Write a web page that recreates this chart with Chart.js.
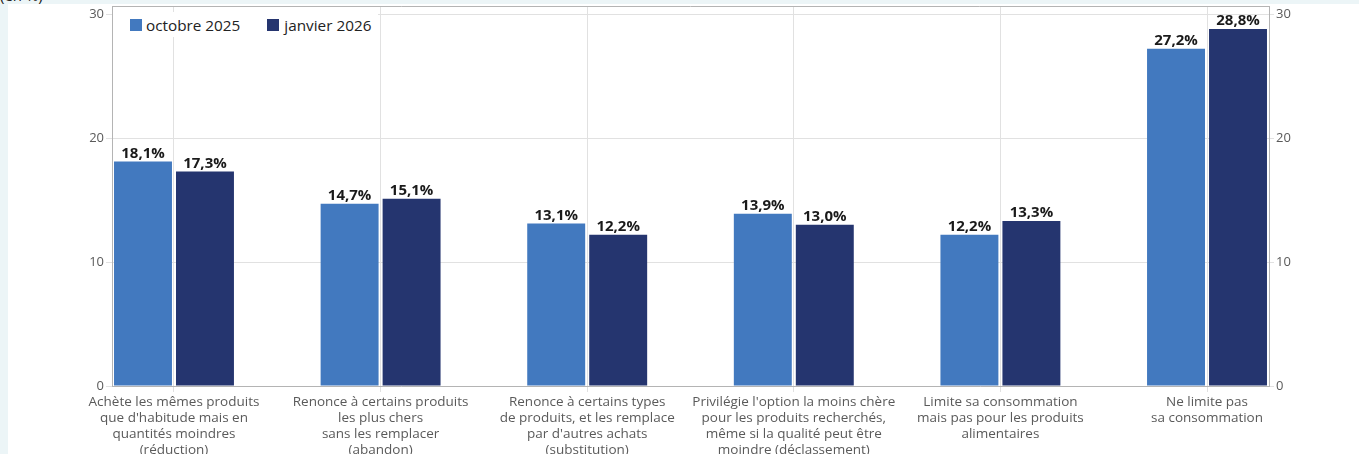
<!DOCTYPE html>
<html lang="fr">
<head>
<meta charset="utf-8">
<title>Limitation de la consommation</title>
<script src="https://cdn.jsdelivr.net/npm/chart.js@4.4.1/dist/chart.umd.min.js"></script>
<style>
  html, body { margin: 0; padding: 0; }
  body {
    width: 1359px; height: 454px; overflow: hidden;
    background: #ecf5f7; position: relative;
    font-family: "Open Sans", sans-serif;
  }
  #panel {
    position: absolute; left: 8px; top: 4px; width: 1351px; height: 450px;
    background: #ffffff;
  }
  #unit {
    position: absolute; left: 0; top: -15px;
    font-size: 15px; line-height: 20px; color: #222;
  }
  #wrap { position: absolute; left: 0; top: 0; width: 1359px; height: 454px; }
  #legend {
    position: absolute; left: 113px; top: 12px; height: 25px; width: 265px;
    background: #ffffff; display: flex; align-items: center;
    padding-left: 17px; box-sizing: border-box;
    font-size: 15.3px; color: #222; white-space: nowrap;
  }
  #legend .item { display: flex; align-items: center; margin-right: 27px; }
  #legend .box { width: 12px; height: 12px; margin-right: 4px; }
  #legend .item + .item .box { margin-right: 5px; }
</style>
</head>
<body>
<div id="panel"></div>
<div id="unit">(en %)</div>
<div id="wrap"><canvas id="chart" width="1359" height="454"></canvas></div>
<div id="legend"></div>
<script>
// Categories (multi-line axis labels)
const categories = [
  ["Achète les mêmes produits", "que d'habitude mais en", "quantités moindres", "(réduction)"],
  ["Renonce à certains produits", "les plus chers", "sans les remplacer", "(abandon)"],
  ["Renonce à certains types", "de produits, et les remplace", "par d'autres achats", "(substitution)"],
  ["Privilégie l'option la moins chère", "pour les produits recherchés,", "même si la qualité peut être", "moindre (déclassement)"],
  ["Limite sa consommation", "mais pas pour les produits", "alimentaires"],
  ["Ne limite pas", "sa consommation"]
];

// Series labels and values (en %)
const seriesNames = ["octobre 2025", "janvier 2026"];
const octobre2025 = [18.1, 14.7, 13.1, 13.9, 12.2, 27.2];
const janvier2026 = [17.3, 15.1, 12.2, 13.0, 13.3, 28.8];

// Value axis tick labels
const yTicks = [0, 10, 20, 30];

const colors = ["#4279bf", "#25356f"];
const tickColor = "#5a5a5a";
const gridColor = "#e1e1e1";
const borderColor = "#b4b4b4";

const toPoints = (vals) => vals.map((v, i) => ({ x: i, y: v }));
const fmt = (v) => v.toFixed(1).replace(".", ",") + "%";

// Value labels above each bar
const valueLabels = {
  id: "valueLabels",
  afterDatasetsDraw(chart) {
    const ctx = chart.ctx;
    ctx.save();
    ctx.font = "bold 15px 'Open Sans', sans-serif";
    ctx.fillStyle = "#1a1a1a";
    ctx.textAlign = "center";
    ctx.textBaseline = "alphabetic";
    chart.data.datasets.forEach((ds, di) => {
      const meta = chart.getDatasetMeta(di);
      meta.data.forEach((bar, i) => {
        ctx.fillText(fmt(ds.data[i].y), bar.x, bar.y - 4);
      });
    });
    ctx.restore();
  }
};

// Top edge of the plot frame
const frameTop = {
  id: "frameTop",
  beforeDatasetsDraw(chart) {
    const { ctx, chartArea } = chart;
    ctx.save();
    ctx.strokeStyle = borderColor;
    ctx.lineWidth = 1;
    ctx.beginPath();
    ctx.moveTo(chartArea.left, Math.round(chartArea.top) + 0.5);
    ctx.lineTo(chartArea.right, Math.round(chartArea.top) + 0.5);
    ctx.stroke();
    ctx.restore();
  }
};

const tickFont = { family: "'Open Sans', sans-serif", size: 13, lineHeight: 1.2 };
const xTickFont = { family: "'Open Sans', sans-serif", size: 13.5, lineHeight: "16px" };

const chart = new Chart(document.getElementById("chart"), {
  type: "bar",
  data: {
    datasets: [
      { label: seriesNames[0], data: toPoints(octobre2025), backgroundColor: colors[0] },
      { label: seriesNames[1], data: toPoints(janvier2026), backgroundColor: colors[1] }
    ]
  },
  plugins: [valueLabels, frameTop],
  options: {
    responsive: false,
    animation: false,
    devicePixelRatio: 1,
    categoryPercentage: 0.6,
    barPercentage: 0.935,
    layout: { padding: { top: 6, left: 0, right: 0, bottom: 0 } },
    plugins: {
      legend: { display: false },
      tooltip: { enabled: false }
    },
    scales: {
      x: {
        type: "linear",
        min: -0.3,
        max: 5.3,
        offset: false,
        grid: { offset: false, color: gridColor, tickLength: 6, tickColor: gridColor },
        border: { color: borderColor },
        afterBuildTicks: (s) => { s.ticks = categories.map((_, i) => ({ value: i })); },
        afterFit: (s) => { s.height = 68; s.paddingLeft = 0; s.paddingRight = 0; },
        ticks: {
          autoSkip: false,
          maxRotation: 0,
          padding: 2,
          color: tickColor,
          font: xTickFont,
          callback: (v) => categories[v]
        }
      },
      y: {
        position: "left",
        min: 0,
        max: 30.65,
        grid: { color: gridColor, tickLength: 6, tickColor: gridColor },
        border: { color: borderColor },
        afterBuildTicks: (s) => { s.ticks = yTicks.map((v) => ({ value: v })); },
        afterFit: (s) => { s.width = 112; s.paddingTop = 0; s.paddingBottom = 0; },
        ticks: { padding: 2, color: tickColor, font: tickFont }
      },
      y2: {
        position: "right",
        min: 0,
        max: 30.65,
        grid: { drawOnChartArea: false, tickLength: 5, tickColor: gridColor },
        border: { color: borderColor },
        afterBuildTicks: (s) => { s.ticks = yTicks.map((v) => ({ value: v })); },
        afterFit: (s) => { s.width = 90; s.paddingTop = 0; s.paddingBottom = 0; },
        ticks: { padding: 2, color: tickColor, font: tickFont }
      }
    }
  }
});

// HTML legend built from the chart's datasets
const legendEl = document.getElementById("legend");
chart.data.datasets.forEach((ds) => {
  const item = document.createElement("div");
  item.className = "item";
  const box = document.createElement("span");
  box.className = "box";
  box.style.background = ds.backgroundColor;
  const txt = document.createElement("span");
  txt.textContent = ds.label;
  item.appendChild(box);
  item.appendChild(txt);
  legendEl.appendChild(item);
});
</script>
</body>
</html>
